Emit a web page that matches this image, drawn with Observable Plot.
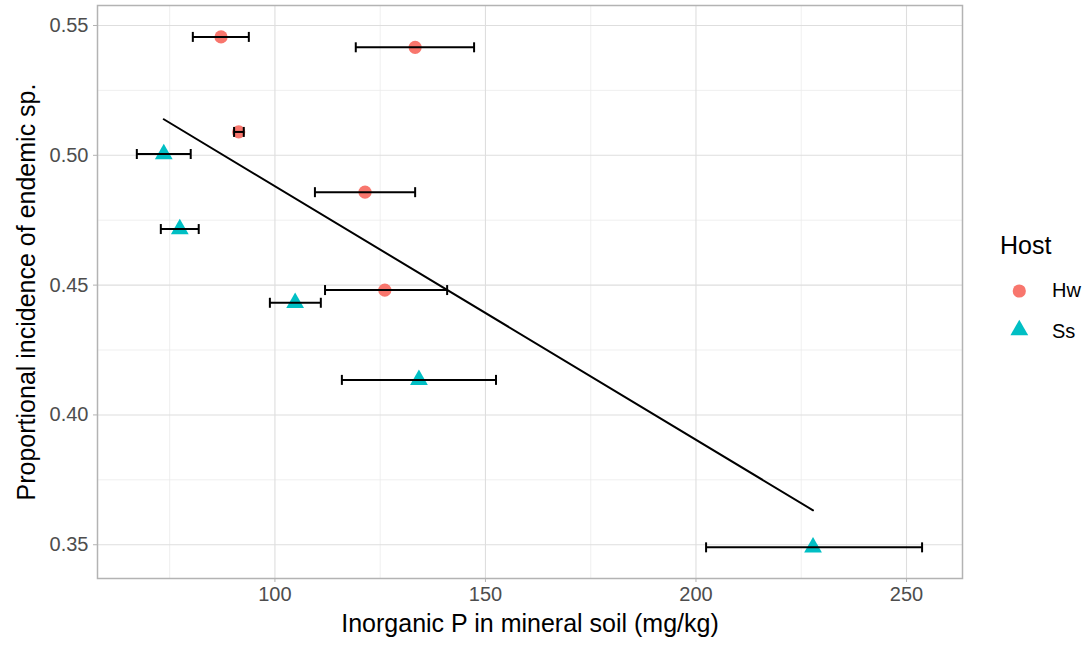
<!DOCTYPE html>
<html><head><meta charset="utf-8">
<script src="https://cdn.jsdelivr.net/npm/d3@7"></script>
<script src="https://cdn.jsdelivr.net/npm/@observablehq/plot@0.6"></script>
<style>
body{margin:0;background:#fff;font-family:"Liberation Sans",Arial,sans-serif;}
#wrap{display:flex;flex-direction:row;width:1085px;height:645px;}
#legend{position:relative;width:115px;}
</style></head>
<body><div id="wrap"><div id="chart"></div><div id="legend"></div></div>
<script>
const host = ["Hw","Hw","Hw","Hw","Hw","Ss","Ss","Ss","Ss","Ss"];
const pMean = [87.2,133.3,91.4,121.4,126.1,73.6,77.4,104.8,134.2,227.8];
const pLow  = [80.5,119.2,90.3,109.5,111.9,67.2,72.9,98.8,115.9,202.4];
const pHigh = [93.8,147.3,92.6,133.3,140.9,80.0,81.9,110.9,152.5,253.7];
const incidence = [0.5456,0.5416,0.5090,0.4858,0.4481,0.5005,0.4716,0.4432,0.4135,0.3490];
const xTicks = [100,150,200,250];
const xMinor = [75,125,175,225];
const yTicks = [0.35,0.40,0.45,0.50,0.55];
const yMinor = [0.375,0.425,0.475,0.525];
const hostColors = ["#F8766D","#00BFC4"];
const hostSymbols = ["circle","triangle"];
const xTitle = "Inorganic P in mineral soil (mg/kg)";
const yTitle = "Proportional incidence of endemic sp.";

const data = host.map((h,i)=>({host:h,x:pMean[i],lo:pLow[i],hi:pHigh[i],y:incidence[i]}));

const capRender = (index, scales, values, dims, ctx, next) =>
  next(index, scales, {...values, y1: values.y1.map(v=>v-5), y2: values.y2.map(v=>v+5)}, dims, ctx);

const chart = Plot.plot({
  width: 970, height: 645,
  marginLeft: 97, marginRight: 8, marginTop: 5, marginBottom: 67,
  style: {fontFamily: '"Liberation Sans", Arial, sans-serif', background: "#fff", fontSize: "20px"},
  x: {domain: [57.86, 263.3], ticks: xTicks},
  y: {domain: [0.337, 0.5577], ticks: yTicks},
  color: {domain: ["Hw","Ss"], range: hostColors},
  symbol: {domain: ["Hw","Ss"], range: hostSymbols},
  marks: [
    Plot.gridX(xMinor, {stroke: "#EBEBEB", strokeOpacity: 1, strokeWidth: 0.8}),
    Plot.gridY(yMinor, {stroke: "#EBEBEB", strokeOpacity: 1, strokeWidth: 0.8}),
    Plot.gridX(xTicks, {stroke: "#DEDEDE", strokeOpacity: 1, strokeWidth: 1.1}),
    Plot.gridY(yTicks, {stroke: "#DEDEDE", strokeOpacity: 1, strokeWidth: 1.1}),
    Plot.frame({stroke: "#B3B3B3", strokeWidth: 1.5}),
    Plot.axisX(xTicks, {tickSize: 4, stroke: "#B3B3B3", tickPadding: 4, fontSize: 20, color: "#4D4D4D",
      label: null, tickFormat: d3.format("d")}),
    Plot.axisY(yTicks, {tickSize: 4, stroke: "#B3B3B3", tickPadding: 5, fontSize: 20, color: "#4D4D4D",
      label: null, tickFormat: d3.format(".2f")}),
    Plot.text([xTitle], {text: d=>d, frameAnchor: "bottom", dy: 53, fontSize: 25, fill: "black"}),
    Plot.text([yTitle], {text: d=>d, frameAnchor: "left", textAnchor: "middle", dx: -71, rotate: -90, fontSize: 25, fill: "black"}),
    Plot.linearRegressionY(data, {x: "x", y: "y", stroke: "black", strokeWidth: 2, ci: 0}),
    Plot.dot(data, {x: "x", y: "y", fill: "host", symbol: "host", r: 6.6, stroke: "none"}),
    Plot.link(data, {x1: "lo", x2: "hi", y1: "y", y2: "y", stroke: "black", strokeWidth: 2}),
    Plot.link(data, {x1: "lo", x2: "lo", y1: "y", y2: "y", stroke: "black", strokeWidth: 2, render: capRender}),
    Plot.link(data, {x1: "hi", x2: "hi", y1: "y", y2: "y", stroke: "black", strokeWidth: 2, render: capRender}),
  ],
});
// ensure tick label size
d3.select(chart).selectAll('g[aria-label$="tick label"]').attr("font-size", 20)
  .selectAll("text").attr("font-size", null);
document.getElementById("chart").appendChild(chart);

// legend
const lg = document.getElementById("legend");
lg.innerHTML = `
<div style="position:absolute;left:30px;top:231px;font-size:25px;line-height:29px;color:#000;">Host</div>
<svg style="position:absolute;left:0;top:270px" width="115" height="80">
  <circle cx="49.3" cy="21" r="6.6" fill="${hostColors[0]}"/>
  <path transform="translate(49.3,60)" d="${d3.symbol(d3.symbolTriangle, Math.PI*6.6*6.6)()}" fill="${hostColors[1]}"/>
  <text x="82" y="27" font-size="20" fill="#000">Hw</text>
  <text x="82" y="68" font-size="20" fill="#000">Ss</text>
</svg>`;
</script></body></html>
